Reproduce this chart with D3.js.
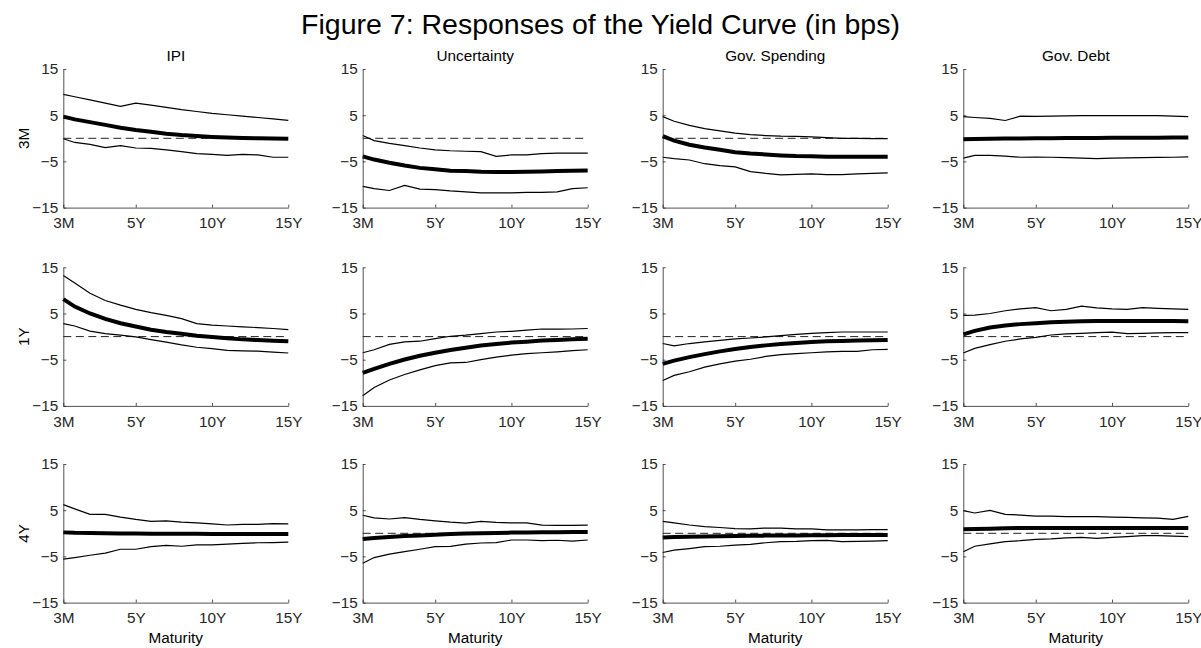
<!DOCTYPE html>
<html>
<head>
<meta charset="utf-8">
<script src="https://cdn.jsdelivr.net/npm/d3@7"></script>
<style>
    body { margin: 0; background: #fff; }
    text { font-family: "Liberation Sans", Arial, Helvetica, sans-serif; fill: #000; }
    .axis path, .axis line { stroke: #262626; stroke-width: 0.8; }
    .axis text { font-size: 15.3px; fill: #262626; }
</style>
</head>
<body>
<div class="chart"></div>
<script>
// maturities in years (3M = 0.25)
const maturities = [0.25, 1, 2, 3, 4, 5, 6, 7, 8, 9, 10, 11, 12, 13, 14, 15];
const xTickValues = [0.25, 5, 10, 15];
const xTickLabels = ["3M", "5Y", "10Y", "15Y"];
const yTickValues = [-15, -5, 5, 15];
const shocks = ["IPI", "Uncertainty", "Gov. Spending", "Gov. Debt"];
const horizons = ["3M", "1Y", "4Y"];

// horizon 3M
const ipi3mHi = [9.5, 9.0, 8.3, 7.6, 6.9, 7.6, 7.2, 6.7, 6.2, 5.8, 5.4, 5.1, 4.8, 4.5, 4.2, 3.9];
const ipi3mMid = [4.7, 4.1, 3.5, 2.9, 2.3, 1.8, 1.4, 1.0, 0.7, 0.5, 0.3, 0.15, 0.05, 0, -0.05, -0.1];
const ipi3mLo = [-0.1, -0.9, -1.3, -2.0, -1.6, -2.1, -2.2, -2.5, -2.9, -3.3, -3.5, -3.7, -3.5, -3.6, -4.1, -4.1];
const unc3mHi = [0.6, -0.5, -1.1, -1.6, -2.1, -2.5, -2.7, -2.8, -2.9, -3.9, -3.6, -3.6, -3.3, -3.2, -3.2, -3.2];
const unc3mMid = [-3.9, -4.6, -5.3, -5.9, -6.4, -6.7, -7.0, -7.1, -7.25, -7.3, -7.3, -7.25, -7.2, -7.1, -7.0, -6.95];
const unc3mLo = [-10.4, -10.9, -11.3, -10.2, -11.0, -11.1, -11.4, -11.6, -11.8, -11.8, -11.8, -11.7, -11.7, -11.6, -10.9, -10.7];
const spend3mHi = [4.7, 3.7, 2.8, 2.1, 1.6, 1.1, 0.8, 0.6, 0.45, 0.4, 0.3, 0.15, 0.0, 0.0, -0.05, -0.05];
const spend3mMid = [0.45, -0.5, -1.4, -2.0, -2.5, -3.0, -3.3, -3.5, -3.7, -3.85, -3.9, -4.0, -4.0, -4.0, -4.0, -4.0];
const spend3mLo = [-4.1, -4.4, -4.7, -5.5, -5.9, -6.2, -7.2, -7.6, -7.9, -7.8, -7.7, -7.85, -7.85, -7.7, -7.6, -7.5];
const debt3mHi = [4.7, 4.5, 4.3, 3.85, 4.8, 4.75, 4.8, 4.85, 4.9, 4.9, 4.9, 4.9, 4.9, 4.9, 4.8, 4.7];
const debt3mMid = [-0.2, -0.15, -0.1, -0.05, -0.02, 0, 0.03, 0.05, 0.07, 0.09, 0.1, 0.12, 0.13, 0.14, 0.15, 0.15];
const debt3mLo = [-4.3, -3.7, -3.7, -3.85, -4.1, -4.05, -4.1, -4.2, -4.3, -4.4, -4.3, -4.25, -4.2, -4.15, -4.1, -4.0];

// horizon 1Y
const ipi1yHi = [13.2, 11.6, 9.4, 7.8, 6.8, 5.9, 5.2, 4.6, 3.9, 2.8, 2.5, 2.3, 2.1, 1.95, 1.75, 1.5];
const ipi1yMid = [8.1, 6.5, 5.0, 3.85, 2.9, 2.2, 1.5, 1.0, 0.6, 0.2, -0.07, -0.35, -0.6, -0.75, -0.9, -1.0];
const ipi1yLo = [2.8, 2.3, 1.2, 0.65, 0.3, -0.07, -0.65, -1.2, -1.8, -2.3, -2.6, -3.0, -3.1, -3.15, -3.35, -3.55];
const unc1yHi = [-3.5, -2.85, -1.7, -1.15, -1.0, -0.45, 0.07, 0.3, 0.65, 1.0, 1.15, 1.4, 1.65, 1.6, 1.65, 1.75];
const unc1yMid = [-7.85, -7.0, -5.9, -4.95, -4.15, -3.5, -2.9, -2.4, -1.95, -1.6, -1.3, -1.1, -0.87, -0.73, -0.6, -0.45];
const unc1yLo = [-12.8, -11.0, -9.4, -8.2, -7.2, -6.3, -5.7, -5.6, -5.0, -4.45, -4.0, -3.7, -3.5, -3.3, -3.05, -2.85];
const spend1yHi = [-1.5, -2.0, -1.5, -1.15, -0.8, -0.5, -0.3, -0.07, 0.2, 0.5, 0.7, 0.87, 1.0, 1.0, 1.0, 1.0];
const spend1yMid = [-5.9, -5.2, -4.45, -3.8, -3.2, -2.7, -2.25, -1.9, -1.6, -1.4, -1.15, -1.0, -0.95, -0.87, -0.8, -0.73];
const spend1yLo = [-9.5, -8.4, -7.6, -6.6, -5.9, -5.3, -4.9, -4.3, -3.9, -3.7, -3.5, -3.3, -3.2, -3.2, -2.85, -2.75];
const debt1yHi = [4.6, 4.65, 5.0, 5.6, 6.0, 6.25, 5.6, 5.9, 6.6, 6.2, 6.0, 5.9, 6.25, 6.1, 6.0, 5.9];
const debt1yMid = [0.5, 1.25, 1.95, 2.4, 2.7, 2.9, 3.1, 3.2, 3.3, 3.35, 3.35, 3.35, 3.35, 3.35, 3.35, 3.3];
const debt1yLo = [-3.55, -2.55, -1.75, -1.0, -0.5, -0.15, 0.35, 0.6, 0.7, 0.87, 0.95, 0.65, 0.7, 0.8, 0.87, 0.87];

// horizon 4Y
const ipi4yHi = [6.2, 5.3, 4.1, 4.1, 3.5, 3.0, 2.6, 2.7, 2.4, 2.25, 2.05, 1.8, 1.95, 1.95, 2.1, 2.05];
const ipi4yMid = [0.2, 0.1, 0.05, 0, -0.03, -0.07, -0.09, -0.1, -0.11, -0.12, -0.13, -0.14, -0.14, -0.15, -0.15, -0.15];
const ipi4yLo = [-5.6, -5.25, -4.75, -4.3, -3.45, -3.45, -2.9, -2.6, -2.8, -2.5, -2.5, -2.35, -2.2, -2.05, -2.0, -1.9];
const unc4yHi = [3.9, 3.35, 3.1, 3.4, 3.0, 2.7, 2.4, 2.2, 2.6, 2.35, 2.25, 2.25, 1.75, 1.7, 1.7, 1.75];
const unc4yMid = [-1.25, -1.0, -0.8, -0.6, -0.45, -0.3, -0.15, -0.07, 0, 0.07, 0.15, 0.2, 0.22, 0.25, 0.27, 0.3];
const unc4yLo = [-6.5, -5.25, -4.5, -3.95, -3.45, -2.9, -2.85, -2.35, -2.1, -2.0, -1.45, -1.45, -1.6, -1.5, -1.7, -1.45];
const spend4yHi = [2.6, 2.25, 1.8, 1.45, 1.25, 1.0, 0.95, 1.15, 1.1, 0.95, 0.95, 0.75, 0.75, 0.75, 0.8, 0.8];
const spend4yMid = [-0.9, -0.8, -0.75, -0.7, -0.65, -0.6, -0.55, -0.5, -0.47, -0.45, -0.42, -0.4, -0.38, -0.37, -0.36, -0.35];
const spend4yLo = [-4.15, -3.65, -3.3, -2.9, -2.8, -2.55, -2.4, -2.05, -1.8, -1.75, -1.6, -1.55, -1.8, -1.75, -1.7, -1.6];
const debt4yHi = [4.9, 4.4, 4.95, 4.1, 3.95, 3.7, 3.7, 3.6, 3.6, 3.6, 3.5, 3.45, 3.35, 3.3, 3.0, 3.65];
const debt4yMid = [0.9, 0.95, 1.0, 1.1, 1.15, 1.15, 1.15, 1.15, 1.15, 1.15, 1.15, 1.15, 1.15, 1.15, 1.15, 1.15];
const debt4yLo = [-4.0, -2.8, -2.3, -1.8, -1.6, -1.3, -1.2, -1.0, -0.9, -1.1, -0.9, -0.7, -0.5, -0.5, -0.6, -0.7];

// rows = horizons, columns = shocks
const panels = [
    [[ipi3mLo, ipi3mMid, ipi3mHi], [unc3mLo, unc3mMid, unc3mHi], [spend3mLo, spend3mMid, spend3mHi], [debt3mLo, debt3mMid, debt3mHi]],
    [[ipi1yLo, ipi1yMid, ipi1yHi], [unc1yLo, unc1yMid, unc1yHi], [spend1yLo, spend1yMid, spend1yHi], [debt1yLo, debt1yMid, debt1yHi]],
    [[ipi4yLo, ipi4yMid, ipi4yHi], [unc4yLo, unc4yMid, unc4yHi], [spend4yLo, spend4yMid, spend4yHi], [debt4yLo, debt4yMid, debt4yHi]]
];

const width = 1201, height = 648;
const colLeft = [63.3, 362.7, 662.7, 963.3];
const rowTop = [69, 267.3, 464];
const pw = 225, ph = 138.6;

const svg = d3.select(".chart").append("svg")
    .attr("width", width)
    .attr("height", height);

svg.append("text")
    .attr("x", 600.5)
    .attr("y", 34)
    .attr("text-anchor", "middle")
    .style("font-size", "28.5px")
    .text("Figure 7: Responses of the Yield Curve (in bps)");

const x = d3.scaleLinear().domain([0.25, 15]).range([0, pw]);
const y = d3.scaleLinear().domain([-15, 15]).range([ph, 0]);

const line = d3.line()
    .x((d, i) => x(maturities[i]))
    .y(d => y(d));

panels.forEach((row, r) => {
    row.forEach((series, c) => {
        const g = svg.append("g")
            .attr("transform", `translate(${colLeft[c]},${rowTop[r]})`);

        // zero reference
        g.append("line")
            .attr("x1", x(0.25)).attr("x2", x(15))
            .attr("y1", y(0)).attr("y2", y(0))
            .attr("stroke", "#222")
            .attr("stroke-width", 1)
            .attr("stroke-dasharray", "8,4.5");

        // bands then median
        [series[0], series[2]].forEach(band => {
            g.append("path")
                .datum(band)
                .attr("fill", "none")
                .attr("stroke", "#000")
                .attr("stroke-width", 1.2)
                .attr("d", line);
        });
        g.append("path")
            .datum(series[1])
            .attr("fill", "none")
            .attr("stroke", "#000")
            .attr("stroke-width", 4)
            .attr("d", line);

        g.append("g")
            .attr("class", "axis")
            .attr("transform", `translate(0,${ph})`)
            .call(d3.axisBottom(x)
                .tickValues(xTickValues)
                .tickFormat((d, i) => xTickLabels[i])
                .tickSizeInner(-3)
                .tickSizeOuter(0)
                .tickPadding(10));

        g.append("g")
            .attr("class", "axis")
            .call(d3.axisLeft(y)
                .tickValues(yTickValues)
                .tickFormat(d3.format("d"))
                .tickSizeInner(-3)
                .tickSizeOuter(0)
                .tickPadding(5));

        if (r === 0) {
            g.append("text")
                .attr("x", pw / 2)
                .attr("y", -8.5)
                .attr("text-anchor", "middle")
                .style("font-size", "15.3px")
                .text(shocks[c]);
        }
        if (c === 0) {
            g.append("text")
                .attr("transform", `translate(${-34},${ph / 2}) rotate(-90)`)
                .attr("text-anchor", "middle")
                .style("font-size", "15.3px")
                .text(horizons[r]);
        }
        if (r === panels.length - 1) {
            g.append("text")
                .attr("x", pw / 2)
                .attr("y", ph + 40)
                .attr("text-anchor", "middle")
                .style("font-size", "15.3px")
                .text("Maturity");
        }
    });
});
</script>
</body>
</html>
